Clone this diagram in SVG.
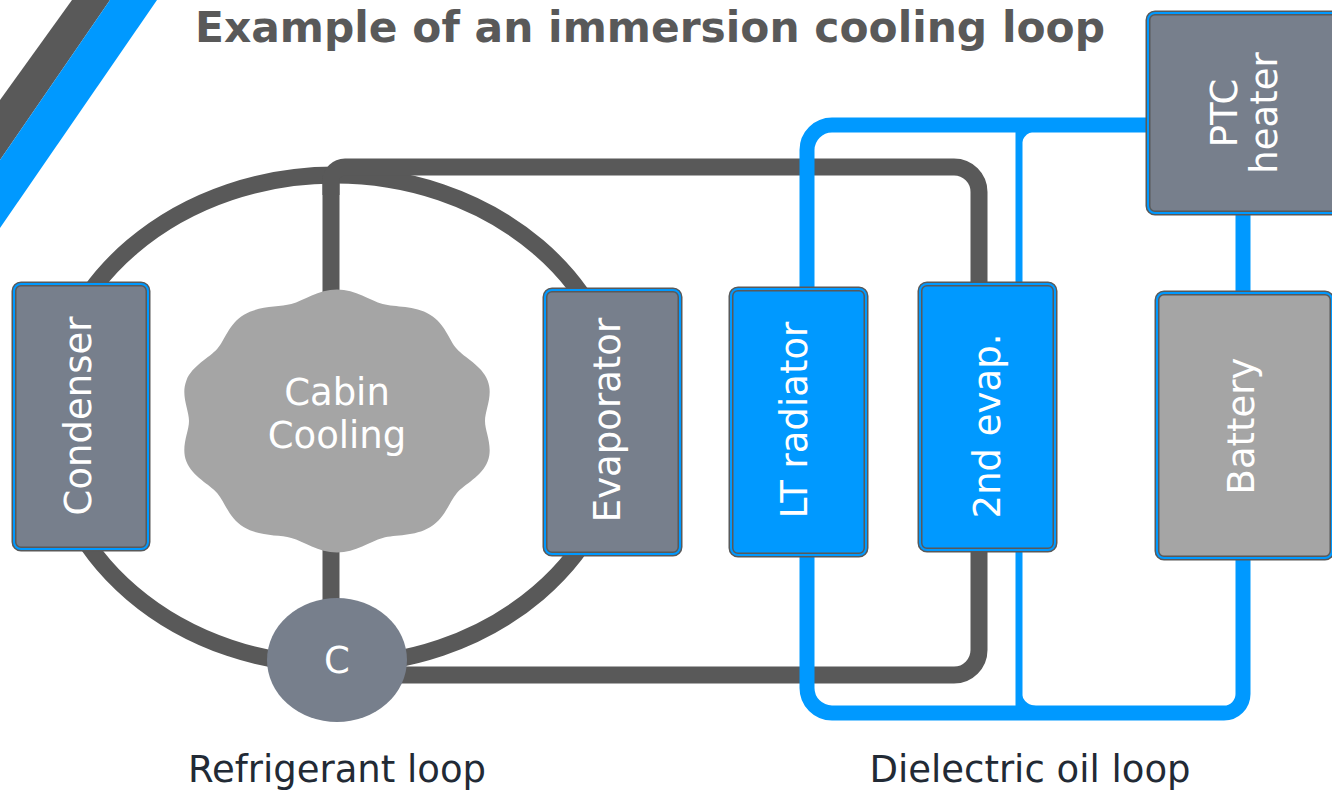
<svg xmlns="http://www.w3.org/2000/svg" width="1332" height="790" viewBox="0 0 1332 790">
<style>
.t{font-family:"DejaVu Sans","Liberation Sans",sans-serif;fill:#ffffff;font-size:37px;text-anchor:middle}
.lbl{font-family:"DejaVu Sans","Liberation Sans",sans-serif;fill:#222a35;font-size:37px;text-anchor:middle}
.title{font-family:"DejaVu Sans","Liberation Sans",sans-serif;font-weight:bold;fill:#595959;font-size:42px;text-anchor:middle}
.g{fill:none;stroke:#595959;stroke-width:17}
.b{fill:none;stroke:#0099ff;stroke-width:15}
.bo{stroke:#595959;stroke-width:5}
.bi{fill:none;stroke:#0099ff;stroke-width:2}
.slate{fill:#777f8c}
.lg{fill:#a5a5a5}
.blue{fill:#0099ff}
</style>
<rect width="1332" height="790" fill="#ffffff"/>
<g id="stripes">
<polygon points="72,0 110,0 0,160 0,100" fill="#595959"/>
<polygon points="110,0 157,0 0,228 0,160" fill="#0099ff"/>
</g>
<text class="title" x="650" y="42" textLength="910" lengthAdjust="spacingAndGlyphs">Example of an immersion cooling loop</text>
<g id="connectors">
<ellipse class="g" cx="335" cy="420" rx="287" ry="245"/>
<path class="g" d="M331 175 V610"/>
<path class="g" d="M331 195 V181 A14 14 0 0 1 345 167 H954 A25 25 0 0 1 979 192 V650 A25 25 0 0 1 954 675 H390"/>
<path class="b" d="M1150 125 H832 A25 25 0 0 0 807 150 V688 A25 25 0 0 0 832 713 H1224 A19 19 0 0 0 1243 694 V555"/>
<path class="b" d="M1243 210 V296"/>
<path fill="none" stroke="#0099ff" stroke-width="7" d="M1019 128 V712"/>
<path fill="#0099ff" d="M1021 150 Q1021 133 1036 131 L1021 131 Z M1021 688 Q1021 704 1036 706 L1021 706 Z"/>
</g>
<g id="condenser">
<rect class="slate bo" x="14" y="284" width="134" height="265" rx="7"/>
<rect class="bi" x="14" y="284" width="134" height="265" rx="7"/>
<text class="t" transform="translate(91,416) rotate(-90)">Condenser</text>
</g>
<g id="cabin">
<path class="lg" d="M485 421 C485 432.1 493.5 446.6 487.6 461.6 C481.7 476.6 464.5 484.3 456.7 493.2 C448.9 502.2 445.4 518 430 527.3 C414.6 536.6 395.4 534.5 382.7 537.9 C370 541.3 356 552.4 337 552.4 C318 552.4 304 541.3 291.3 537.9 C278.6 534.5 259.4 536.6 244 527.3 C228.6 518 225.1 502.2 217.3 493.2 C209.5 484.3 192.3 476.6 186.4 461.6 C180.5 446.6 189 432.1 189 421 C189 409.9 180.5 395.4 186.4 380.4 C192.3 365.4 209.5 357.8 217.3 348.8 C225.1 339.9 228.6 324 244 314.7 C259.4 305.4 278.6 307.5 291.3 304.1 C304 300.7 318 289.6 337 289.6 C356 289.6 370 300.7 382.7 304.1 C395.4 307.5 414.6 305.4 430 314.7 C445.4 324 448.9 339.9 456.7 348.8 C464.5 357.8 481.7 365.4 487.6 380.4 C493.5 395.4 485 409.9 485 421 Z"/>
<text class="t" x="337" y="405">Cabin</text>
<text class="t" x="337" y="448">Cooling</text>
</g>
<g id="compressor">
<ellipse class="slate" cx="337" cy="660" rx="70" ry="62"/>
<text class="t" x="337" y="673">C</text>
</g>
<g id="evaporator">
<rect class="slate bo" x="545" y="290" width="135" height="264" rx="7"/>
<rect class="bi" x="545" y="290" width="135" height="264" rx="7"/>
<text class="t" transform="translate(620,420) rotate(-90)">Evaporator</text>
</g>
<g id="lt-radiator">
<rect class="blue bo" x="731" y="289" width="135" height="266" rx="7"/>
<rect class="bi" x="731" y="289" width="135" height="266" rx="7"/>
<text class="t" transform="translate(807,420) rotate(-90)">LT radiator</text>
</g>
<g id="second-evap">
<rect class="blue bo" x="920" y="284" width="135" height="266" rx="7"/>
<rect class="bi" x="920" y="284" width="135" height="266" rx="7"/>
<text class="t" transform="translate(1000,426) rotate(-90)">2nd evap.</text>
</g>
<g id="ptc-heater">
<rect class="slate bo" x="1148" y="13" width="200" height="200" rx="7"/>
<rect class="bi" x="1148" y="13" width="200" height="200" rx="7"/>
<text class="t" transform="translate(1237,113) rotate(-90)">PTC</text>
<text class="t" transform="translate(1277,113) rotate(-90)">heater</text>
</g>
<g id="battery">
<rect class="lg bo" x="1157" y="293" width="175" height="265" rx="7"/>
<rect class="bi" x="1157" y="293" width="175" height="265" rx="7"/>
<text class="t" transform="translate(1254,426) rotate(-90)">Battery</text>
</g>
<g id="labels">
<text class="lbl" x="337" y="782">Refrigerant loop</text>
<text class="lbl" x="1030" y="782">Dielectric oil loop</text>
</g>
</svg>
